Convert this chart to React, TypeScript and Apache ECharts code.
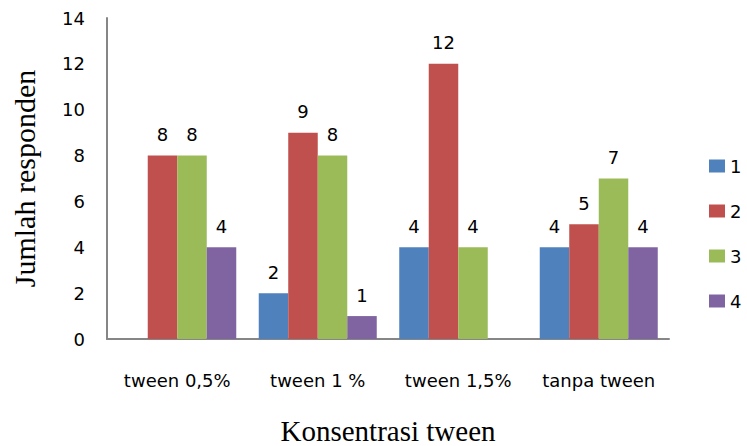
import React, { useEffect, useRef } from "react";
import * as echarts from "echarts";

const categories = ["tween 0,5%", "tween 1 %", "tween 1,5%", "tanpa tween"];
const seriesNames = ["1", "2", "3", "4"];
const s1 = [null, 2, 4, 4];
const s2 = [8, 9, 12, 5];
const s3 = [8, 8, 4, 7];
const s4 = [4, 1, null, 4];
const seriesData = [s1, s2, s3, s4];
const colors = ["#4F81BD", "#C0504D", "#9BBB59", "#8064A2"];

export default function App() {
  const ref = useRef<HTMLDivElement>(null);
  useEffect(() => {
    if (!ref.current) return;
    const chart = echarts.init(ref.current, null, { renderer: "svg" });
    const sans = "DejaVu Sans";
    chart.setOption({
      animation: false,
      color: colors,
      grid: { left: 107, right: 78, top: 18, bottom: 107, outerBoundsMode: "none", containLabel: false },
      legend: {
        orient: "vertical",
        left: 709,
        top: 156,
        padding: 0,
        icon: "rect",
        itemWidth: 16,
        itemHeight: 13,
        itemGap: 25,
        textStyle: { fontFamily: sans, fontSize: 18, color: "#000", lineHeight: 20 },
        data: seriesNames,
      },
      xAxis: {
        type: "category",
        data: categories,
        axisLine: { lineStyle: { color: "#868686", width: 2 } },
        axisTick: { show: false },
        axisLabel: { fontFamily: sans, fontSize: 18, color: "#000", margin: 32, interval: 0, hideOverlap: false },
        name: "Konsentrasi tween",
        nameLocation: "middle",
        nameGap: 80,
        nameTextStyle: { fontFamily: "Liberation Serif", fontSize: 29, lineHeight: 24, color: "#000" },
      },
      yAxis: {
        type: "value",
        min: 0,
        max: 14,
        interval: 2,
        axisLine: { show: true, lineStyle: { color: "#868686", width: 2 } },
        axisTick: { show: false },
        splitLine: { show: false },
        axisLabel: { fontFamily: sans, fontSize: 18, color: "#000", margin: 22 },
        name: "Jumlah responden",
        nameLocation: "middle",
        nameRotate: 90,
        nameGap: 68,
        nameTextStyle: { fontFamily: "Liberation Serif", fontSize: 30, color: "#000" },
      },
      series: seriesNames.map((n, i) => ({
        name: n,
        type: "bar",
        data: seriesData[i],
        barGap: "0%",
        barCategoryGap: "16%",
        label: {
          show: true,
          position: "top",
          distance: 12,
          fontFamily: sans,
          fontSize: 18,
          color: "#000",
        },
      })),
    });
    return () => chart.dispose();
  }, []);
  return <div ref={ref} style={{ width: 747, height: 446, position: "absolute", left: 0, top: 0 }} />;
}
